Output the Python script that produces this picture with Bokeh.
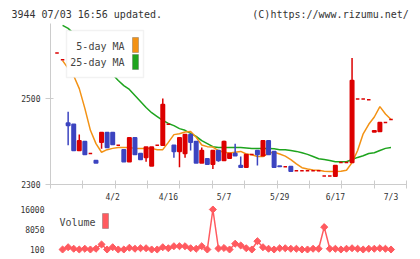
import numpy as np
from bokeh.plotting import figure
from bokeh.layouts import column
from bokeh.models import Range1d, FixedTicker, Label, BoxAnnotation, ColumnDataSource
from bokeh.embed import file_html
from bokeh.resources import INLINE

# ---- daily prices (index 0 = oldest session) ----
opens = [2606, 2590, 2443, 2440, 2379, 2400, 2372, 2356, 2398, 2421,
         2421, 2391, 2381, 2353, 2409, 2372, 2363, 2343, 2391, 2391,
         2440, 2391, 2377, 2372, 2416, 2400, 2350, 2360, 2347, 2379,
         2356, 2361, 2372, 2344, 2340, 2370, 2379, 2367, 2402, 2377,
         2343, 2341, 2342, 2332, 2332, 2332, 2332, 2332, 2320, 2320,
         2319, 2351, 2351, 2351, 2499, 2499, 2497, 2422, 2423, 2444,
         2451]
closes = [2606, 2590, 2437, 2379, 2402, 2370, 2372, 2350, 2421, 2386,
          2393, 2391, 2353, 2409, 2370, 2358, 2387, 2387, 2391, 2486,
          2440, 2377, 2409, 2416, 2398, 2350, 2379, 2347, 2379, 2356,
          2400, 2372, 2367, 2340, 2370, 2370, 2370, 2402, 2370, 2340,
          2342, 2341, 2331, 2332, 2332, 2332, 2332, 2332, 2320, 2320,
          2344, 2351, 2351, 2542, 2499, 2499, 2497, 2425, 2444, 2444,
          2451]
# None = no shadow beyond the body
highs = [None, None, 2469, None, 2416, None, None, None, None, None,
         None, None, None, None, None, None, None, None, None, 2500,
         None, None, None, None, None, None, 2386, None, None, None,
         2402, None, 2395, 2365, None, None, None, None, None, None,
         None, None, None, None, None, None, None, None, None, None,
         None, None, None, 2594, None, None, None, None, None, None,
         None]
lows = [None, None, 2391, None, None, None, None, None, 2383, None,
        None, None, None, None, None, None, 2353, None, None, None,
        None, 2362, 2340, 2362, 2379, None, None, None, 2336, 2353,
        None, None, None, None, None, None, 2344, None, None, None,
        None, None, None, None, None, None, None, None, None, None,
        None, None, None, None, None, None, None, None, None, None,
        None]

nan = float("nan")
ma5 = [nan, 2588, 2570, 2553, 2523, 2477, 2426, 2395, 2375, 2381,
       2384, 2386, 2386, 2386, 2384, 2384, 2384, 2384, 2381, 2381,
       2398, 2416, 2418, 2422, 2423, 2410, 2392, 2388, 2387, 2379,
       2375, 2373, 2375, 2377, 2371, 2369, 2365, 2365, 2373, 2375,
       2371, 2366, 2358, 2348, 2339, 2336, 2334, 2333, 2331, 2330,
       2330, 2331, 2333, 2351, 2379, 2418, 2440, 2457, 2481, 2464,
       2451]
ma25 = [nan, 2670, 2663, 2651, 2640, 2626, 2612, 2598, 2584, 2570,
        2556, 2542, 2530, 2521, 2507, 2493, 2479, 2467, 2458, 2449,
        2442, 2437, 2430, 2426, 2419, 2412, 2402, 2395, 2388, 2386,
        2386, 2386, 2386, 2386, 2385, 2384, 2384, 2384, 2384, 2383,
        2381, 2381, 2379, 2377, 2374, 2370, 2365, 2360, 2358, 2356,
        2353, 2353, 2353, 2358, 2363, 2367, 2372, 2374, 2379, 2384,
        2386]
volume = [nan, 100, 1000, 400, 100, 400, 100, 400, 2100, 100,
          1000, 100, 100, 800, 400, 600, 600, 100, 100, 1000,
          600, 1400, 1400, 1400, 600, 400, 1400, 100, 16000, 500,
          700, 100, 2400, 1700, 600, 100, 3400, 1000, 400, 100,
          600, 600, 400, 400, 100, 100, 400, 400, 9000, 400,
          400, 100, 400, 600, 400, 100, 400, 400, 600, 400,
          100]

date_ticks = [10, 20, 30, 40, 50, 60]
date_labels = ["4/2", "4/16", "5/7", "5/29", "6/17", "7/3"]
price_ticks = [2300, 2500]
volume_ticks = [100, 8050, 16000]

header_left = "3944 07/03 16:56 updated."
header_right = "(C)https://www.rizumu.net/"

UP, DOWN = "#dc0000", "#3c44c0"
MA5_COLOR, MA25_COLOR = "#f39214", "#1ea41e"
VOL_COLOR = "#ff5a5f"
AXIS_GRAY = "#cccccc"
TEXT = "#333333"
MONO = "DejaVu Sans Mono"

idx = list(range(len(closes)))
body_top = [max(o, c) for o, c in zip(opens, closes)]
body_bot = [min(o, c) for o, c in zip(opens, closes)]
hi = [h if h is not None else t for h, t in zip(highs, body_top)]
lo = [l if l is not None else b for l, b in zip(lows, body_bot)]
colors = [UP if c >= o else DOWN for o, c in zip(opens, closes)]

candles = ColumnDataSource(dict(x=idx, top=body_top, bottom=body_bot,
                                high=hi, low=lo, color=colors))

x_range = Range1d(-1.17, 62.78)

# ---- price panel ----
p = figure(width=420, height=204, x_range=x_range, y_range=Range1d(2300, 2674.4),
           output_backend="svg", toolbar_location=None,
           min_border_left=50, min_border_right=14,
           min_border_top=23, min_border_bottom=20)
p.outline_line_color = None
p.xgrid.visible = False
p.ygrid.visible = False
p.background_fill_color = "white"
p.border_fill_color = "white"

# header line: code/time on the left, copyright on the right (monospace, padded)
p.title.text = header_left + "\u00a0" * 15 + header_right
p.title.align = "left"
p.title.offset = -39
p.title.standoff = 7
p.title.text_font = MONO
p.title.text_font_size = "10px"
p.title.text_font_style = "normal"
p.title.text_color = TEXT

p.line(idx, ma25, color=MA25_COLOR, line_width=1.5)
p.line(idx, ma5, color=MA5_COLOR, line_width=1.5)
p.segment(x0="x", y0="low", x1="x", y1="high", color="color", line_width=1.5, source=candles)
p.vbar(x="x", width=0.63, top="top", bottom="bottom", fill_color="color",
       line_color="color", line_width=1.5, source=candles)

xa = p.xaxis[0]
xa.ticker = FixedTicker(ticks=date_ticks,
                        minor_ticks=list(np.linspace(x_range.start, x_range.end, 12)))
xa.major_label_overrides = {t: s for t, s in zip(date_ticks, date_labels)}
xa.major_tick_in = 0
xa.major_tick_out = 0
xa.minor_tick_in = 4
xa.minor_tick_out = 4
xa.minor_tick_line_color = AXIS_GRAY
xa.axis_line_color = AXIS_GRAY
xa.major_label_standoff = 4
xa.major_label_text_font = MONO
xa.major_label_text_font_size = "8px"
xa.major_label_text_color = TEXT

ya = p.yaxis[0]
ya.ticker = FixedTicker(ticks=price_ticks, minor_ticks=[])
ya.major_tick_in = 3
ya.major_tick_out = 5
ya.major_tick_line_color = AXIS_GRAY
ya.axis_line_color = AXIS_GRAY
ya.major_label_standoff = 5
ya.major_label_text_font = MONO
ya.major_label_text_font_size = "8px"
ya.major_label_text_color = TEXT

# moving-average legend
p.add_layout(BoxAnnotation(left=16, right=93, top=154, bottom=107,
                           left_units="screen", right_units="screen",
                           top_units="screen", bottom_units="screen",
                           fill_color="white", fill_alpha=1.0,
                           line_color="#d4d4d4", line_width=1.5))
for label_text, ly, sw_top, sw_bot, sw_color in [("5-day MA", 138, 147, 132, MA5_COLOR),
                                                 ("25-day MA", 122, 130, 115, MA25_COLOR)]:
    p.add_layout(Label(x=74, y=ly, x_units="screen", y_units="screen",
                       text=label_text, text_font=MONO, text_font_size="10px",
                       text_color="#444444", text_align="right", text_baseline="middle"))
    p.add_layout(BoxAnnotation(left=82, right=88, top=sw_top, bottom=sw_bot,
                               left_units="screen", right_units="screen",
                               top_units="screen", bottom_units="screen",
                               fill_color=sw_color, fill_alpha=1.0,
                               line_color="#444444", line_width=1))

# ---- volume panel ----
v = figure(width=420, height=55, x_range=x_range, y_range=Range1d(-1490, 17590),
           output_backend="svg", toolbar_location=None,
           min_border_left=50, min_border_right=14,
           min_border_top=1, min_border_bottom=6)
v.outline_line_color = None
v.xgrid.visible = False
v.ygrid.visible = False
v.xaxis.visible = False
v.line(idx, volume, color=VOL_COLOR, line_width=1.5)
v.scatter(idx, volume, marker="square", angle=0.785, size=5, color=VOL_COLOR)

va = v.yaxis[0]
va.ticker = FixedTicker(ticks=volume_ticks, minor_ticks=[])
va.axis_line_color = None
va.major_tick_line_color = None
va.major_tick_out = 0
va.major_tick_in = 0
va.major_label_standoff = 6
va.major_label_text_font = MONO
va.major_label_text_font_size = "8px"
va.major_label_text_color = TEXT

v.add_layout(Label(x=9, y=31, x_units="screen", y_units="screen",
                   text="Volume", text_font=MONO, text_font_size="10px",
                   text_color="#444444", text_align="left", text_baseline="middle"))
v.add_layout(BoxAnnotation(left=52, right=58, top=40, bottom=25,
                           left_units="screen", right_units="screen",
                           top_units="screen", bottom_units="screen",
                           fill_color=VOL_COLOR, fill_alpha=1.0,
                           line_color="#444444", line_width=1))

layout = column(p, v, spacing=0)
open("out.html", "w").write(file_html(layout, INLINE))
